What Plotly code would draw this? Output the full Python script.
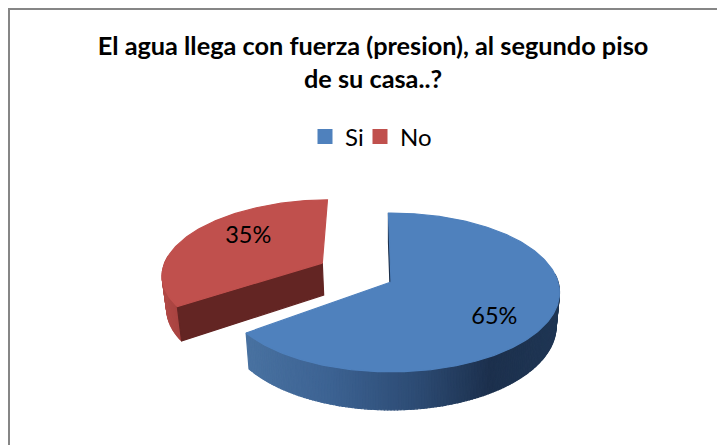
import math
import plotly.graph_objects as go

categories = ["Si", "No"]
values = [65, 35]
title_lines = ["El agua llega con fuerza (presion), al segundo piso", "de su casa..?"]
top_colors = ["#4f81bd", "#c0504d"]
inner_colors = ["#1c2f4a", "#632523"]
explode = [(0.0, 0.0), (-0.425, -0.25)]
slice_scale = [1.0, 0.975]
start_skew = [0, 2.5]
label_angle = [127, 306.5]
label_radius = [0.73, 0.622]
legend_x = [305, 360]

# 3-D pie camera
CX, CY, RX, RY, PERSP, DEPTH, SHRINK, START = 391, 282, 167, 78, 0.132, 33, 0.98, -1


def proj(u, v, low=False):
    k = 1 / (1 - PERSP * v)
    x = RX * u * k
    y = RY * v * k
    if low:
        return CX + x * SHRINK, CY + y + DEPTH * k
    return CX + x, CY + y


def rim(theta, ex, low=False, r=1.0):
    t = math.radians(theta)
    return proj(ex[0] + r * math.sin(t), ex[1] - r * math.cos(t), low)


def col(stops, x):
    if x <= stops[0][0]:
        return "rgb({},{},{})".format(*stops[0][1])
    for (a, ca), (b, cb) in zip(stops, stops[1:]):
        if x <= b:
            f = (x - a) / (b - a)
            c = [round(ca[i] + (cb[i] - ca[i]) * f) for i in range(3)]
            return f"rgb({c[0]},{c[1]},{c[2]})"
    return "rgb({},{},{})".format(*stops[-1][1])


wall_stops = [
    [(250, (72, 113, 160)), (330, (60, 98, 146)), (420, (44, 74, 114)), (490, (28, 48, 77)), (560, (31, 54, 84))],
    [(160, (178, 74, 71)), (180, (166, 66, 63))],
]

fig = go.Figure()


def poly(pts, color):
    fig.add_trace(go.Scatter(
        x=[p[0] for p in pts] + [pts[0][0]], y=[p[1] for p in pts] + [pts[0][1]],
        mode="lines", fill="toself", fillcolor=color,
        line=dict(color=color, width=1.2), hoverinfo="skip", showlegend=False))


def slice_pie(i, a0, a1):
    ex = explode[i]
    r = slice_scale[i]
    a0 = a0 + start_skew[i]
    # outer wall gradient, back-facing part skipped
    n = max(int(abs(a1 - a0)), 2)
    step = (a1 - a0) / n
    for j in range(n):
        th0, th1 = a0 + j * step, a0 + (j + 1) * step
        mid = rim((th0 + th1) / 2, ex, False, r)
        if -math.cos(math.radians((th0 + th1) / 2)) < -0.1:
            continue
        poly([rim(th0, ex, False, r), rim(th1, ex, False, r), rim(th1, ex, True, r), rim(th0, ex, True, r)],
             col(wall_stops[i], mid[0]))
    # the one cut face turned towards the viewer
    apex, apex_low = proj(ex[0], ex[1]), proj(ex[0], ex[1], True)
    poly([apex, rim(a0, ex, False, r), rim(a0, ex, True, r), apex_low], inner_colors[i])
    # top face
    m = int(abs(a1 - a0))
    pts = [apex] + [rim(a0 + (a1 - a0) * j / m, ex, False, r) for j in range(m + 1)]
    poly(pts, top_colors[i])


total = sum(values)
spans = []
a = START
for v in values:
    spans.append((a, a + 360 * v / total))
    a += 360 * v / total

# back-to-front: exploded slice first
for i in (1, 0):
    slice_pie(i, *spans[i])

lab = [rim(label_angle[i], explode[i], False, label_radius[i]) for i in range(2)]
fig.add_trace(go.Scatter(
    x=[p[0] for p in lab], y=[p[1] for p in lab], mode="text",
    text=[f"{v}%" for v in values], textposition="middle center",
    textfont=dict(family="Lato", size=23.5, color="#000000"),
    hoverinfo="skip", showlegend=False))

legend_ids = ["legend", "legend2"]
for c, color, lid in zip(categories, top_colors, legend_ids):
    fig.add_trace(go.Scatter(
        x=[None], y=[None], mode="markers", name=c, legend=lid,
        marker=dict(symbol="square", size=15, color=color)))

legend_style = dict(orientation="h", xanchor="left", y=1 - 137 / 445, yanchor="middle",
                    font=dict(family="Lato", size=24, color="#000000"),
                    itemwidth=30, bgcolor="rgba(0,0,0,0)")

fig.update_layout(
    width=717, height=445, autosize=False,
    margin=dict(l=0, r=0, t=0, b=0),
    paper_bgcolor="white", plot_bgcolor="white",
    xaxis=dict(range=[0, 717], visible=False, fixedrange=True),
    yaxis=dict(range=[445, 0], visible=False, fixedrange=True),
    title=dict(
        text="<b>" + "</b><br><b>".join(title_lines) + "</b>",
        x=373 / 717, xanchor="center", y=1 - 55 / 445, yanchor="middle",
        font=dict(family="Lato", size=25.3, color="#000000")),
    legend=dict(x=legend_x[0] / 717, **legend_style),
    legend2=dict(x=legend_x[1] / 717, **legend_style),
    shapes=[dict(type="rect", xref="paper", yref="paper",
                 x0=9 / 717, x1=1.01, y0=-0.01, y1=1 - 9 / 445,
                 line=dict(color="#868686", width=2), fillcolor="rgba(0,0,0,0)")],
)
fig.write_html("out.html", config=dict(displayModeBar=False),
               post_script="document.body.style.margin='0';document.body.style.overflow='hidden';")
